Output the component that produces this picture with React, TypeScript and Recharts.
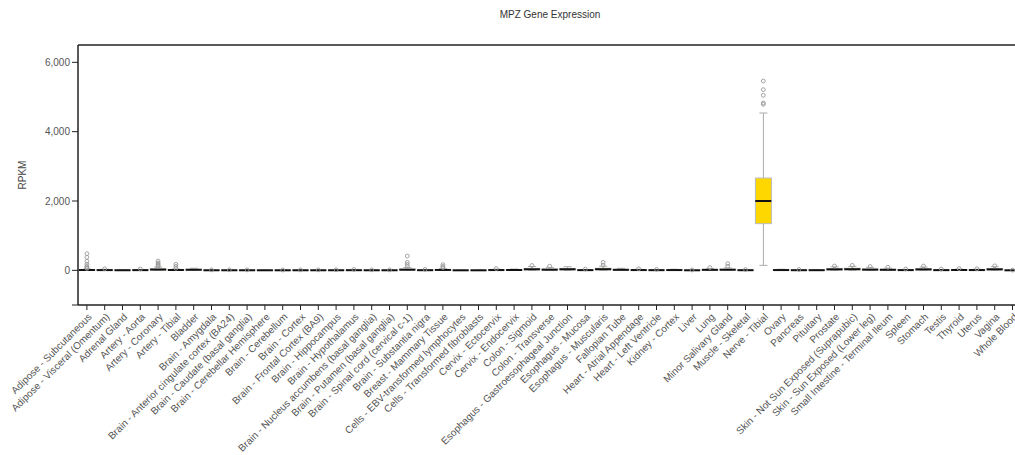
import React from 'react';
import { ComposedChart, Bar, Scatter, XAxis, YAxis, ReferenceLine } from 'recharts';

const tissues = [
  'Adipose - Subcutaneous', 'Adipose - Visceral (Omentum)', 'Adrenal Gland', 'Artery - Aorta', 'Artery - Coronary',
  'Artery - Tibial', 'Bladder', 'Brain - Amygdala', 'Brain - Anterior cingulate cortex (BA24)', 'Brain - Caudate (basal ganglia)',
  'Brain - Cerebellar Hemisphere', 'Brain - Cerebellum', 'Brain - Cortex', 'Brain - Frontal Cortex (BA9)', 'Brain - Hippocampus',
  'Brain - Hypothalamus', 'Brain - Nucleus accumbens (basal ganglia)', 'Brain - Putamen (basal ganglia)', 'Brain - Spinal cord (cervical c-1)', 'Brain - Substantia nigra',
  'Breast - Mammary Tissue', 'Cells - EBV-transformed lymphocytes', 'Cells - Transformed fibroblasts', 'Cervix - Ectocervix', 'Cervix - Endocervix',
  'Colon - Sigmoid', 'Colon - Transverse', 'Esophagus - Gastroesophageal Junction', 'Esophagus - Mucosa', 'Esophagus - Muscularis',
  'Fallopian Tube', 'Heart - Atrial Appendage', 'Heart - Left Ventricle', 'Kidney - Cortex', 'Liver',
  'Lung', 'Minor Salivary Gland', 'Muscle - Skeletal', 'Nerve - Tibial', 'Ovary',
  'Pancreas', 'Pituitary', 'Prostate', 'Skin - Not Sun Exposed (Suprapubic)', 'Skin - Sun Exposed (Lower leg)',
  'Small Intestine - Terminal Ileum', 'Spleen', 'Stomach', 'Testis', 'Thyroid',
  'Uterus', 'Vagina', 'Whole Blood',
];

const whiskerLow = [0.5, 0.3, 0.2, 0.4, 1, 0.5, 1, 0.2, 0.2, 0.2, 0.1, 0.1, 0.2, 0.2, 0.2, 0.3, 0.2, 0.2, 1, 0.3, 0.5, 0.1, 0.1, 0.5, 0.5, 2, 1, 2, 0.5, 2, 1, 0.5, 0.3, 0.5, 0.1, 1, 1, 0.3, 144, 0.5, 0.3, 0.3, 2, 2, 1, 1, 0.5, 2, 0.5, 0.5, 0.5, 2, 0.1];
const q1 = [4, 3, 1.5, 3, 10, 5, 8, 1, 1, 1, 0.8, 0.8, 1, 1, 1.2, 2, 1, 1, 8, 2, 5, 0.5, 0.5, 4, 4, 15, 8, 15, 3, 15, 7, 4, 2, 4, 0.8, 7, 8, 2, 1347, 4, 2, 2, 14, 16, 10, 8, 3, 13, 3, 4, 4, 14, 0.4];
const median = [9, 7, 3, 6, 22, 10, 16, 2, 2, 2, 1.5, 1.5, 2, 2, 2.5, 4, 2, 2, 18, 4, 11, 1, 1, 8, 9, 30, 18, 30, 6, 32, 15, 8, 5, 8, 1.5, 14, 17, 4, 2000, 8, 4, 4, 28, 32, 20, 16, 7, 26, 6, 9, 8, 28, 0.8];
const q3 = [18, 14, 6, 12, 45, 18, 30, 4, 4, 4, 3, 3, 4, 4, 5, 8, 4, 4, 36, 8, 22, 2, 2, 16, 18, 55, 38, 55, 11, 60, 28, 15, 9, 15, 3, 26, 32, 7, 2663, 15, 8, 8, 50, 60, 40, 30, 13, 48, 12, 17, 15, 52, 1.6];
const whiskerHigh = [38, 30, 13, 26, 95, 38, 60, 8, 9, 8, 6, 6, 8, 8, 10, 16, 9, 9, 80, 17, 48, 4, 4, 34, 38, 110, 85, 105, 22, 120, 58, 32, 19, 32, 6, 55, 70, 14, 4538, 32, 16, 17, 100, 115, 85, 62, 27, 95, 25, 36, 32, 105, 3.5];
const outliers: number[][] = [
  [55, 80, 115, 173, 260, 375, 481], [45], [], [40], [115, 144, 175, 210, 268],
  [60, 115, 173], [], [12], [14], [13],
  [], [9], [12], [12], [15],
  [25], [14], [13], [115, 173, 231, 413], [26],
  [80, 115, 164], [], [], [50], [],
  [140], [120], [], [35], [150, 231],
  [], [45], [28], [], [10],
  [80], [115, 193], [22], [4790, 4827, 5049, 5213, 5461], [],
  [24], [], [125], [145], [110],
  [90], [40], [125], [38], [50],
  [45], [130], [6],
];

const yTicks = [-1000, 0, 2000, 4000, 6000];
const outlierKeys = ['o0', 'o1', 'o2', 'o3', 'o4', 'o5', 'o6'];

const data = tissues.map((t, i) => {
  const row: any = {
    tissue: t,
    whisker: [whiskerLow[i], whiskerHigh[i]],
    box: [q1[i], q3[i]],
    median: median[i],
  };
  outlierKeys.forEach((k, j) => {
    row[k] = outliers[i][j] !== undefined ? outliers[i][j] : null;
  });
  return row;
});

const FONT = '"Liberation Sans", Arial, sans-serif';

const WhiskerShape = (props: any) => {
  const { x, y, width, height } = props;
  if (x == null || y == null) return <g />;
  const cx = x + width / 2;
  const top = Math.min(y, y + height);
  const bot = Math.max(y, y + height);
  return (
    <g>
      <line x1={cx} x2={cx} y1={top} y2={bot} stroke="#aaaaaa" strokeWidth={1} />
      <line x1={cx - 4} x2={cx + 4} y1={top} y2={top} stroke="#aaaaaa" strokeWidth={1} />
      <line x1={cx - 4} x2={cx + 4} y1={bot} y2={bot} stroke="#aaaaaa" strokeWidth={1} />
    </g>
  );
};

const BoxShape = (props: any) => {
  const { x, y, width, height } = props;
  if (x == null || y == null) return <g />;
  const top = Math.min(y, y + height);
  const h = Math.abs(height);
  return <rect x={x} y={top} width={width} height={h} fill="#FFD700" stroke="#bbbbbb" strokeWidth={1} />;
};

const MedianShape = (props: any) => {
  const { cx, cy } = props;
  if (cx == null || cy == null || isNaN(cy)) return <g />;
  return <line x1={cx - 8} x2={cx + 8} y1={cy} y2={cy} stroke="#111111" strokeWidth={2} />;
};

const makeOutlierShape = (key: string) => (props: any) => {
  const { cx, cy, payload } = props;
  if (!payload || payload[key] == null || cy == null || isNaN(cy)) return <g />;
  return <circle cx={cx} cy={cy} r={1.9} fill="none" stroke="#999999" strokeWidth={0.9} />;
};

const XTick = (props: any) => {
  const { x, y, payload } = props;
  return (
    <g transform={`translate(${x + 3},${y + 3})`}>
      <text
        x={0}
        y={0}
        dy="0.35em"
        textAnchor="end"
        transform="rotate(-45)"
        fontSize={10}
        fontFamily={FONT}
        fill="#555555"
      >
        {payload.value}
      </text>
    </g>
  );
};

export default function App() {
  return (
    <div style={{ position: 'fixed', left: 0, top: 0, width: 1015, height: 455, overflow: 'hidden', background: '#fff' }}>
      <div
        style={{
          position: 'absolute',
          top: 9,
          left: 0,
          width: 1100,
          textAlign: 'center',
          fontSize: 10,
          lineHeight: '12px',
          fontFamily: FONT,
          color: '#333',
        }}
      >
        MPZ Gene Expression
      </div>
      <ComposedChart
        width={1100}
        height={455}
        data={data}
        margin={{ top: 45, right: 78.6, left: 0, bottom: 0 }}
        barGap={-16}
        barSize={16}
      >
        <XAxis
          dataKey="tissue"
          type="category"
          interval={0}
          height={150}
          tick={<XTick />}
          tickSize={5}
          tickLine={{ stroke: '#222' }}
          axisLine={{ stroke: '#222', strokeWidth: 1.5 }}
          allowDuplicatedCategory={false}
        />
        <YAxis
          type="number"
          domain={[-1000, 6500]}
          ticks={yTicks}
          width={78}
          tickSize={6}
          allowDataOverflow
          tickFormatter={(v: number) => (v === -1000 ? '' : v.toLocaleString('en-US'))}
          tick={{ fontSize: 10, fill: '#555', fontFamily: FONT }}
          tickLine={{ stroke: '#222' }}
          axisLine={{ stroke: '#222', strokeWidth: 1.5 }}
          label={{
            value: 'RPKM',
            angle: -90,
            position: 'insideLeft',
            offset: 22,
            style: { fontSize: 10, fill: '#444', fontFamily: FONT, textAnchor: 'middle' },
          }}
        />
        <ReferenceLine y={6500} stroke="#222" strokeWidth={1.5} ifOverflow="visible" />
        <Bar dataKey="whisker" shape={<WhiskerShape />} isAnimationActive={false} />
        <Bar dataKey="box" shape={<BoxShape />} isAnimationActive={false} />
        <Scatter dataKey="median" shape={<MedianShape />} isAnimationActive={false} />
        {outlierKeys.map((k) => (
          <Scatter key={k} dataKey={k} shape={makeOutlierShape(k)} isAnimationActive={false} />
        ))}
      </ComposedChart>
    </div>
  );
}
